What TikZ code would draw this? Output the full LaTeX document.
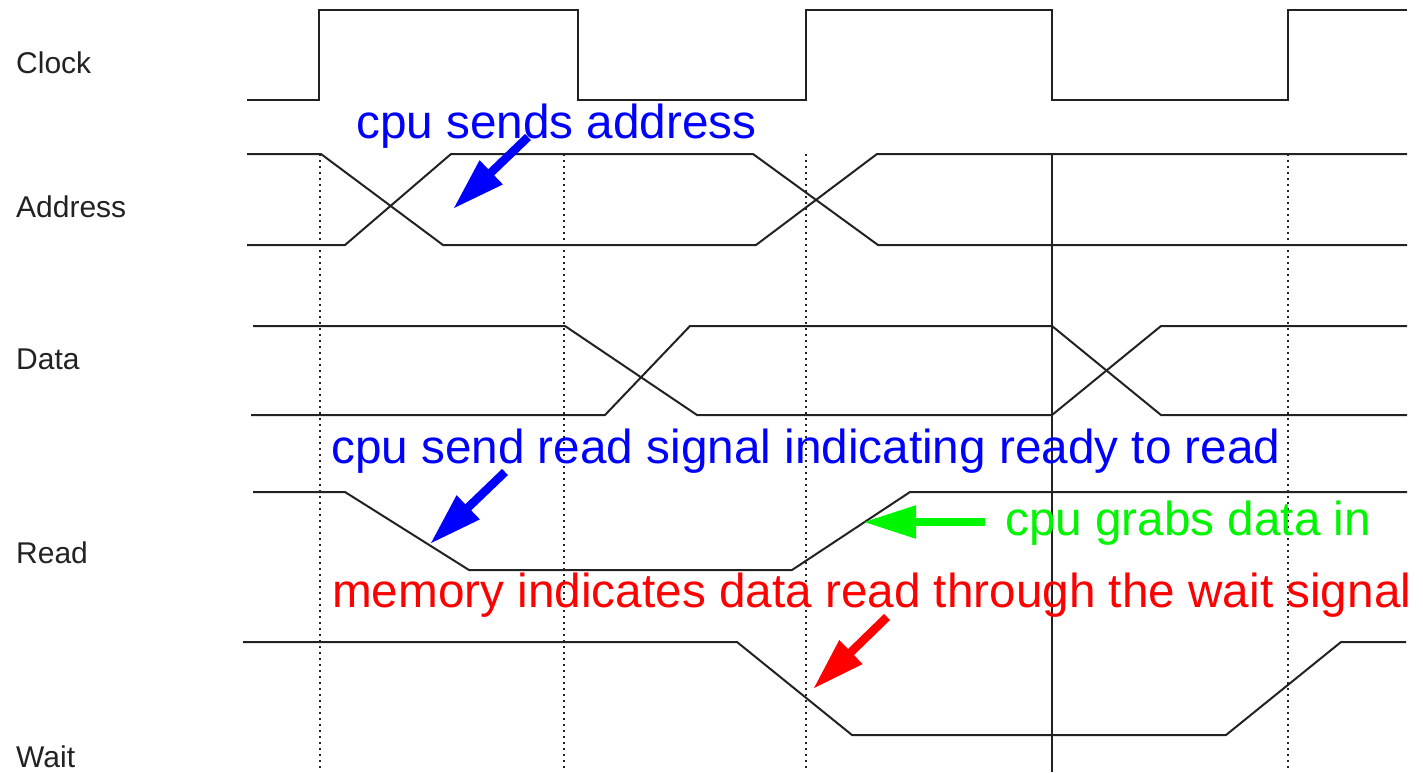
\documentclass[tikz,border=0pt]{standalone}
\usepackage{fontspec}
\setmainfont{Liberation Sans}
\usetikzlibrary{arrows.meta}
\definecolor{sig}{RGB}{34,34,34}
\definecolor{annblue}{RGB}{0,0,255}
\definecolor{annred}{RGB}{255,0,0}
\definecolor{anngreen}{RGB}{0,245,0}
\begin{document}
\begin{tikzpicture}[x=1pt,y=-1pt,
  signal/.style={draw=sig,line width=2pt,line join=miter},
  guide/.style={draw=sig,line width=2pt,dash pattern=on 2pt off 4pt},
  marker/.style={draw=sig,line width=2pt},
  siglabel/.style={anchor=base west,inner sep=0pt,font=\fontsize{30}{30}\selectfont,text=sig},
  note/.style={anchor=base west,inner sep=0pt,font=\fontsize{47.7}{48}\selectfont},
  pointer/.style={line width=8.5pt,-{Triangle[length=53pt,width=31pt]}},
]
\useasboundingbox (0,0) rectangle (1423,772);

% signal labels
\node[siglabel] (lclock) at (16,73) {Clock};
\node[siglabel] (laddr) at (16,217) {Address};
\node[siglabel] (ldata) at (16,369) {Data};
\node[siglabel] (lread) at (16,563) {Read};
\node[siglabel] (lwait) at (16,767) {Wait};

% guide lines
\draw[guide] (320,154) -- (320,770);
\draw[guide] (564,154) -- (564,770);
\draw[guide] (806,154) -- (806,770);
\draw[guide] (1288,154) -- (1288,770);
\draw[marker] (1052,154) -- (1052,772);

% clock
\draw[signal] (247,100) -- (319,100) -- (319,10) -- (578,10) -- (578,100) -- (806,100) -- (806,10)
  -- (1052,10) -- (1052,100) -- (1288,100) -- (1288,10) -- (1407,10);

% address
\draw[signal] (247,154) -- (321,154) -- (443,245) -- (756,245) -- (877,154) -- (1407,154);
\draw[signal] (247,245) -- (345,245) -- (451,154) -- (753,154) -- (878,245) -- (1407,245);

% data
\draw[signal] (253,326) -- (565,326) -- (697,415) -- (1052,415) -- (1161,326) -- (1407,326);
\draw[signal] (251,415) -- (605,415) -- (690,326) -- (1052,326) -- (1161,415) -- (1407,415);

% read
\draw[signal] (253,492) -- (345,492) -- (469,570) -- (792,570) -- (910,492) -- (1407,492);

% wait
\draw[signal] (243,642) -- (737,642) -- (852,735) -- (1226,735) -- (1341,642) -- (1406,642);

% annotations
\node[note,text=annblue] (tsend) at (356,138) {cpu sends address};
\node[note,text=annblue] (tread) at (331,463) {cpu send read signal indicating ready to read};
\node[note,text=anngreen] (tgrab) at (1005,535) {cpu grabs data in};
\node[note,text=annred] (tmem) at (332,607) {memory indicates data read through the wait signal};

\coordinate (a1s) at (528,137);
\coordinate (a1e) at (453,209);
\coordinate (a2s) at (505,472);
\coordinate (a2e) at (430,544);
\coordinate (a3s) at (985,522);
\coordinate (a3e) at (863,522);
\coordinate (a4s) at (887,617);
\coordinate (a4e) at (813,689);

\draw[pointer,draw=annblue,fill=annblue] (a1s) -- (a1e);
\draw[pointer,draw=annblue,fill=annblue] (a2s) -- (a2e);
\draw[pointer,draw=anngreen,fill=anngreen] (a3s) -- (a3e);
\draw[pointer,draw=annred,fill=annred] (a4s) -- (a4e);
\end{tikzpicture}
\end{document}
